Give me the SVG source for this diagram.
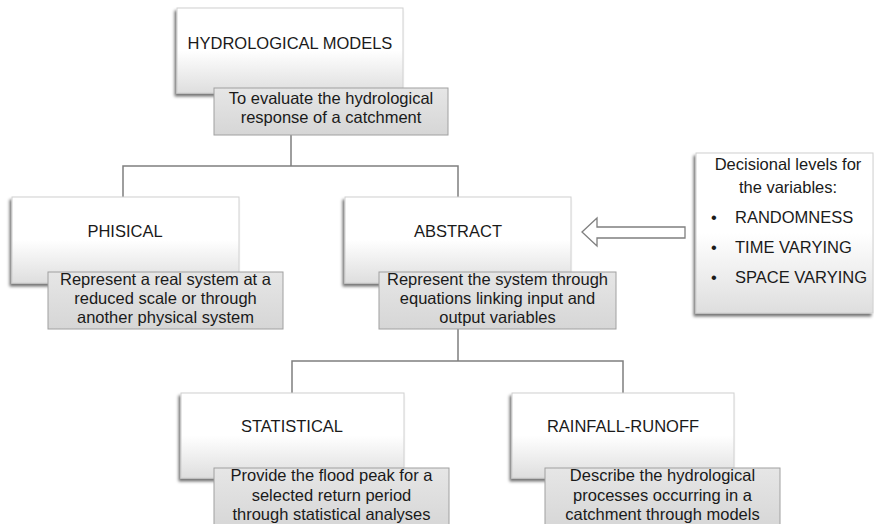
<svg xmlns="http://www.w3.org/2000/svg" width="874" height="524" viewBox="0 0 874 524">
<defs>
<linearGradient id="gBox" x1="0" y1="0" x2="0" y2="1">
<stop offset="0" stop-color="#ffffff"/>
<stop offset="0.5" stop-color="#ffffff"/>
<stop offset="1" stop-color="#dedede"/>
</linearGradient>
<linearGradient id="gLab" x1="0" y1="0" x2="0" y2="1">
<stop offset="0" stop-color="#e6e6e6"/>
<stop offset="1" stop-color="#d6d6d6"/>
</linearGradient>
<filter id="sh" x="-10%" y="-10%" width="120%" height="130%">
<feDropShadow dx="-2" dy="3" stdDeviation="1.6" flood-color="#000" flood-opacity="0.55"/>
</filter>
</defs>
<style>
.box{fill:url(#gBox);stroke:#d0d0d0;stroke-width:1;filter:url(#sh)}
.lab{fill:url(#gLab);stroke:#a0a0a0;stroke-width:1}
.t{font-family:"Liberation Sans",Arial,sans-serif;font-size:16.5px;fill:#1a1a1a;text-anchor:middle}
.tl{font-family:"Liberation Sans",Arial,sans-serif;font-size:16.5px;fill:#1a1a1a}
.con{fill:none;stroke:#7f7f7f;stroke-width:1.5}
</style>
<rect width="874" height="524" fill="#ffffff"/>
<g id="connectors">
<path class="con" d="M291 135 V166 M123 197 V166 H458 V197"/>
<path class="con" d="M458 329 V361 M292 393 V361 H623 V393"/>
<path d="M582 232 L597 218 V227 H685 V238 H597 V246 Z" fill="#ffffff" stroke="#7f7f7f" stroke-width="1.3" stroke-linejoin="miter"/>
</g>
<g id="hydrological-models">
<rect class="box" x="177" y="8" width="226" height="85"/>
<text class="t" x="290" y="49">HYDROLOGICAL MODELS</text>
<rect class="lab" x="214" y="88" width="234" height="47"/>
<text class="t" x="331" y="104">To evaluate the hydrological</text>
<text class="t" x="331" y="123">response of a catchment</text>
</g>
<g id="phisical">
<rect class="box" x="12" y="197" width="227" height="86"/>
<text class="t" x="125" y="237">PHISICAL</text>
<rect class="lab" x="48" y="272" width="235" height="57"/>
<text class="t" x="165.5" y="285">Represent a real system at a</text>
<text class="t" x="165.5" y="304">reduced scale or through</text>
<text class="t" x="165.5" y="323">another physical system</text>
</g>
<g id="abstract">
<rect class="box" x="345" y="197" width="226" height="86"/>
<text class="t" x="458" y="237">ABSTRACT</text>
<rect class="lab" x="379" y="272" width="237" height="57"/>
<text class="t" x="497.5" y="285">Represent the system through</text>
<text class="t" x="497.5" y="304">equations linking input and</text>
<text class="t" x="497.5" y="323">output variables</text>
</g>
<g id="decisional-levels">
<rect class="box" x="696" y="153" width="177" height="160"/>
<text class="t" x="788" y="170">Decisional levels for</text>
<text class="t" x="788" y="193">the variables:</text>
<text class="tl" x="711" y="223">•</text>
<text class="tl" x="735" y="223">RANDOMNESS</text>
<text class="tl" x="711" y="253">•</text>
<text class="tl" x="735" y="253">TIME VARYING</text>
<text class="tl" x="711" y="283">•</text>
<text class="tl" x="735" y="283">SPACE VARYING</text>
</g>
<g id="statistical">
<rect class="box" x="181" y="393" width="223" height="85"/>
<text class="t" x="292" y="432">STATISTICAL</text>
<rect class="lab" x="214" y="468" width="235" height="62"/>
<text class="t" x="331.5" y="481">Provide the flood peak for a</text>
<text class="t" x="331.5" y="501">selected return period</text>
<text class="t" x="331.5" y="520">through statistical analyses</text>
</g>
<g id="rainfall-runoff">
<rect class="box" x="512" y="393" width="222" height="85"/>
<text class="t" x="623" y="432">RAINFALL-RUNOFF</text>
<rect class="lab" x="545" y="468" width="235" height="62"/>
<text class="t" x="662.5" y="481">Describe the hydrological</text>
<text class="t" x="662.5" y="501">processes occurring in a</text>
<text class="t" x="662.5" y="520">catchment through models</text>
</g>
</svg>
